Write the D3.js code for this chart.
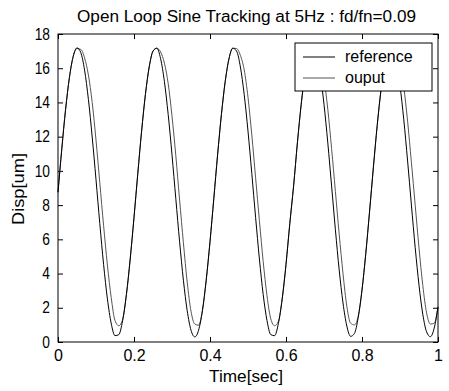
<!DOCTYPE html>
<html>
<head>
<meta charset="utf-8">
<script src="https://cdn.jsdelivr.net/npm/d3@7/dist/d3.min.js"></script>
<style>
  html, body { margin: 0; padding: 0; background: #fff; }
  svg text { font-family: "Liberation Sans", Arial, Helvetica, sans-serif; fill: #000; }
</style>
</head>
<body>
<svg id="chart" width="449" height="391"></svg>
<script>
// Sample times (s), sampled every 10 ms
const time = d3.range(0, 101).map(i => i / 100);

// Commanded displacement (um)
const reference = [
  8.75, 11.29, 13.60, 15.45, 16.69, 17.19, 16.91, 15.88, 14.18, 11.98,
  9.49, 6.92, 4.53, 2.52, 1.09, 0.37, 0.43, 1.25, 2.77, 4.85,
  7.28, 9.85, 12.32, 14.46, 16.07, 17.00, 17.17, 16.56, 15.22, 13.29,
  10.94, 8.38, 5.86, 3.61, 1.83, 0.69, 0.30, 0.69, 1.83, 3.61,
  5.86, 8.38, 10.94, 13.29, 15.22, 16.56, 17.17, 17.00, 16.07, 14.46,
  12.32, 9.85, 7.28, 4.85, 2.77, 1.25, 0.43, 0.37, 1.09, 2.52,
  4.53, 6.92, 9.12, 11.64, 13.89, 15.67, 16.81, 17.20, 16.81, 15.67,
  13.89, 11.64, 9.12, 6.56, 4.21, 2.28, 0.94, 0.33, 0.50, 1.43,
  3.04, 5.18, 7.65, 10.22, 12.65, 14.73, 16.25, 17.07, 17.13, 16.41,
  14.98, 12.98, 10.58, 8.01, 5.52, 3.32, 1.62, 0.59, 0.31, 0.81,
  2.05
];

// Measured displacement (um)
const output = [
  8.75, 11.29, 13.60, 15.45, 16.69, 17.15, 17.10, 16.60, 15.60, 14.00,
  11.80, 9.30, 6.80, 4.50, 2.60, 1.25, 0.95, 1.30, 2.77, 4.85,
  7.28, 9.85, 12.32, 14.46, 16.07, 17.00, 17.17, 16.95, 16.30, 15.10,
  13.20, 10.90, 8.30, 5.80, 3.50, 1.80, 1.05, 0.98, 1.83, 3.61,
  5.86, 8.38, 10.94, 13.29, 15.22, 16.56, 17.17, 17.15, 16.75, 15.90,
  14.30, 12.10, 9.60, 7.10, 4.70, 2.70, 1.35, 0.95, 1.20, 2.52,
  4.53, 6.92, 9.12, 11.64, 13.89, 15.67, 16.81, 17.20, 17.10, 16.60,
  15.40, 13.60, 11.30, 8.80, 6.30, 4.00, 2.10, 1.10, 1.00, 1.50,
  3.04, 5.18, 7.65, 10.22, 12.65, 14.73, 16.25, 17.07, 17.13, 17.00,
  16.30, 14.90, 12.90, 10.50, 8.00, 5.50, 3.30, 1.70, 1.05, 1.10,
  2.05
];

const xTicks = [0, 0.2, 0.4, 0.6, 0.8, 1];
const xTickLabels = ["0", "0.2", "0.4", "0.6", "0.8", "1"];
const yTicks = [0, 2, 4, 6, 8, 10, 12, 14, 16, 18];
const seriesNames = ["reference", "ouput"];
const seriesColors = ["#000000", "#555555"];

const titleText = "Open Loop Sine Tracking at 5Hz : fd/fn=0.09";
const xLabel = "Time[sec]";
const yLabel = "Disp[um]";

const svg = d3.select("#chart");
const W = 449, H = 391;
const m = { left: 58, right: 11, top: 34, bottom: 49 };
const pw = W - m.left - m.right;
const ph = H - m.top - m.bottom;

svg.append("rect").attr("width", W).attr("height", H).attr("fill", "#fff");

const x = d3.scaleLinear().domain([0, 1]).range([m.left, m.left + pw]);
const y = d3.scaleLinear().domain([0, 18]).range([m.top + ph, m.top]);

const fontSize = 16;

// Axes with inward ticks (box style)
const tickLen = 5;
const gx = svg.append("g").attr("transform", `translate(0,${m.top + ph})`)
  .call(d3.axisBottom(x).tickValues(xTicks).tickFormat((d, i) => xTickLabels[i])
    .tickSize(-tickLen).tickPadding(8));
const gxTop = svg.append("g").attr("transform", `translate(0,${m.top})`)
  .call(d3.axisTop(x).tickValues(xTicks).tickFormat("").tickSize(-tickLen));
const gy = svg.append("g").attr("transform", `translate(${m.left},0)`)
  .call(d3.axisLeft(y).tickValues(yTicks).tickFormat(d3.format("d"))
    .tickSize(-tickLen).tickPadding(8));
const gyRight = svg.append("g").attr("transform", `translate(${m.left + pw},0)`)
  .call(d3.axisRight(y).tickValues(yTicks).tickFormat("").tickSize(-tickLen));

[gx, gxTop, gy, gyRight].forEach(g => {
  g.select(".domain").remove();
  g.selectAll(".tick line").attr("stroke", "#000").attr("stroke-width", 1);
  g.selectAll("text").attr("font-size", fontSize)
    .attr("font-family", "Liberation Sans, Arial, sans-serif").attr("fill", "#000");
});

// Narrow the y tick digits slightly
gy.selectAll(".tick text").each(function () {
  const w = this.getComputedTextLength();
  d3.select(this).attr("textLength", w * 0.86).attr("lengthAdjust", "spacingAndGlyphs");
});

// Data lines
const pts = (vals) => time.map((t, i) => [t, vals[i]]);
const line = d3.line().x(d => x(d[0])).y(d => y(d[1])).curve(d3.curveMonotoneX);

const plot = svg.append("g");
plot.append("path").datum(pts(output))
  .attr("d", line).attr("fill", "none")
  .attr("stroke", seriesColors[1]).attr("stroke-width", 1);
plot.append("path").datum(pts(reference))
  .attr("d", line).attr("fill", "none")
  .attr("stroke", seriesColors[0]).attr("stroke-width", 1);

// Plot frame
svg.append("rect")
  .attr("x", m.left).attr("y", m.top).attr("width", pw).attr("height", ph)
  .attr("fill", "none").attr("stroke", "#000").attr("stroke-width", 1);

// Legend
const lg = svg.append("g").attr("transform", "translate(295,43)");
lg.append("rect").attr("width", 137).attr("height", 48)
  .attr("fill", "#fff").attr("stroke", "#000").attr("stroke-width", 1);
seriesNames.forEach((name, i) => {
  const yy = 14 + i * 21;
  lg.append("line").attr("x1", 8).attr("x2", 40).attr("y1", yy).attr("y2", yy)
    .attr("stroke", seriesColors[i]).attr("stroke-width", 1);
  lg.append("text").attr("x", 50).attr("y", yy + 5)
    .attr("font-size", fontSize).text(name);
});

// Title and axis labels
svg.append("text").attr("x", 246.5).attr("y", 22)
  .attr("text-anchor", "middle").attr("font-size", fontSize)
  .attr("textLength", 339).attr("lengthAdjust", "spacingAndGlyphs").text(titleText);
svg.append("text").attr("x", 246).attr("y", 382)
  .attr("text-anchor", "middle").attr("font-size", fontSize)
  .attr("textLength", 74).attr("lengthAdjust", "spacingAndGlyphs").text(xLabel);
svg.append("text")
  .attr("transform", `translate(24,${m.top + ph / 2 + 1}) rotate(-90)`)
  .attr("text-anchor", "middle").attr("font-size", fontSize)
  .attr("textLength", 72).attr("lengthAdjust", "spacingAndGlyphs").text(yLabel);
</script>
</body>
</html>
